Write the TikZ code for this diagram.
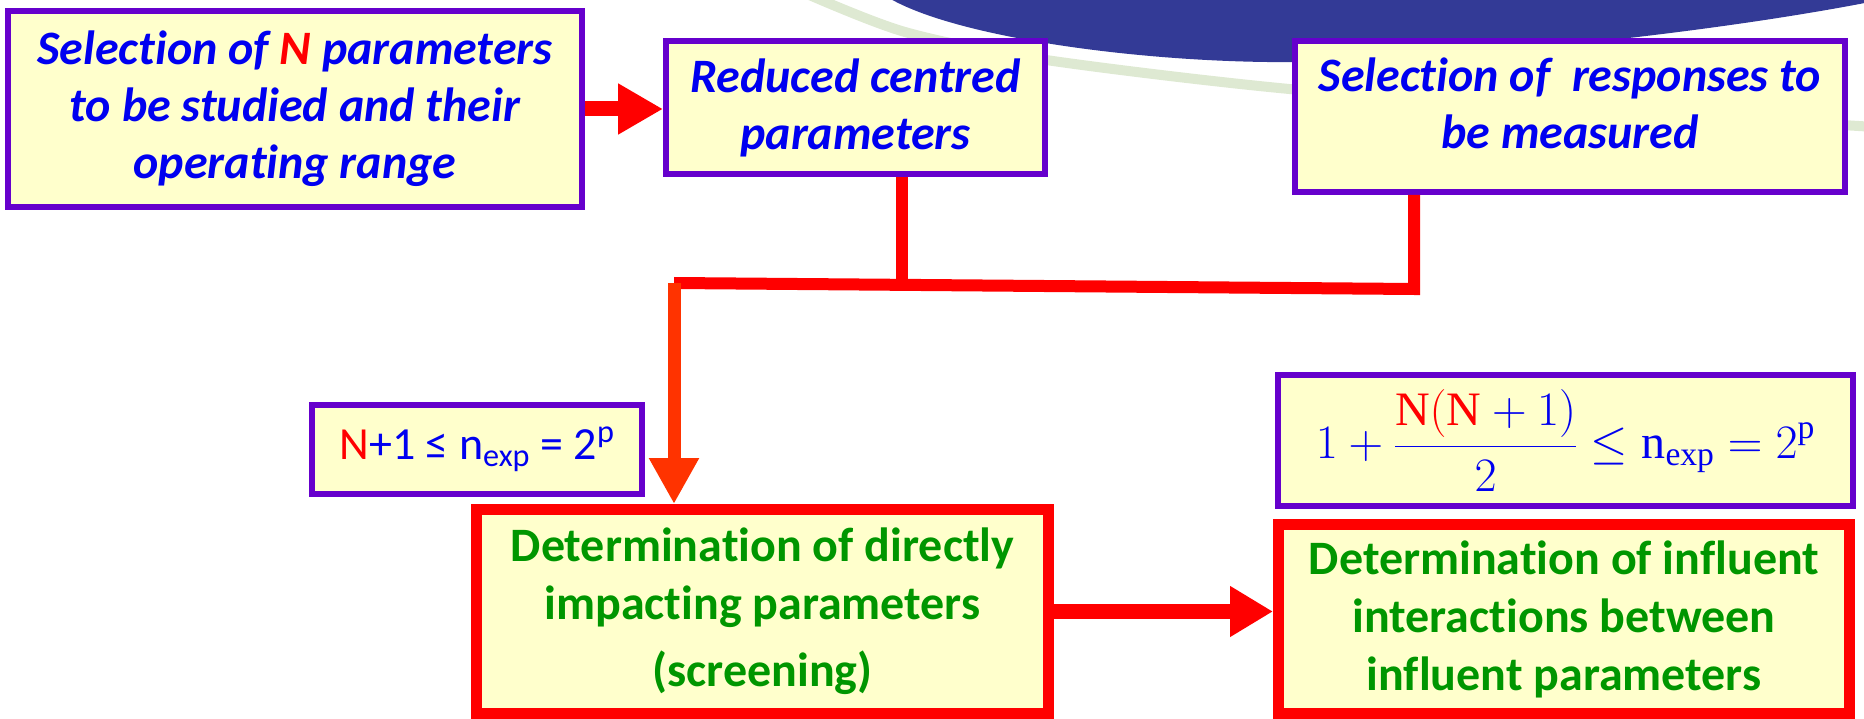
\RequirePackage{fix-cm}
\documentclass[tikz,border=0pt]{standalone}
\usepackage{fontspec}
\setmainfont{Carlito}[Ligatures=NoCommon]
\setmathrm{Liberation Serif}
\usetikzlibrary{arrows.meta}
\definecolor{boxpurple}{RGB}{102,0,204}
\definecolor{boxfill}{RGB}{255,255,204}
\definecolor{txtblue}{RGB}{0,0,240}
\definecolor{txtgreen}{RGB}{0,150,0}
\definecolor{arrowred}{RGB}{255,0,0}
\definecolor{arroworange}{RGB}{255,51,0}
\definecolor{bgnavy}{RGB}{51,58,150}
\definecolor{bgarc}{RGB}{222,233,210}
\begin{document}
\begin{tikzpicture}[x=1pt,y=-1pt,
  inbox/.style={draw=boxpurple,line width=6pt,fill=boxfill,align=center,inner sep=0pt,
    text=txtblue,font=\fontsize{48}{57}\selectfont\bfseries\itshape},
  formbox/.style={draw=boxpurple,line width=6pt,fill=boxfill,align=center,inner sep=0pt,text=txtblue},
  stepbox/.style={draw=arrowred,line width=11pt,fill=boxfill,align=center,inner sep=0pt,
    text=txtgreen,font=\fontsize{48}{58}\selectfont\bfseries},
  redline/.style={draw=arrowred,line width=12pt}]
\useasboundingbox (0,0) rectangle (1864,719);
\draw[bgarc,line width=10pt] plot[smooth] coordinates {(798,-10) (905,32) (1046,60) (1300,90) (1600,110) (1875,127)};
\fill[bgnavy] (884,-5) .. controls (950,38) and (1150,64) .. (1300,62)
  .. controls (1450,60) and (1700,35) .. (1870,2) -- (1870,-5) -- cycle;

\node[inbox,minimum width=574pt,minimum height=196pt] (sel) at (295,109)
  {Selection of {\color{arrowred}N} parameters\\to be studied and their\\operating range};
\node[inbox,minimum width=379pt,minimum height=133pt] (red) at (855.5,107.5)
  {Reduced centred\\parameters};
\node[inbox,minimum width=550pt,minimum height=151pt] (resp) at (1570,116.5)
  {Selection of\ \ responses to\\be measured\\[-30pt]\mbox{}};
\node[formbox,minimum width=330pt,minimum height=89pt,font=\fontsize{46}{50}\selectfont] (frm1) at (477,449.5)
  {{\color{arrowred}N}+1 ≤ n\textsubscript{exp} = 2\textsuperscript{p}};
\node[formbox,minimum width=575pt,minimum height=131pt,font=\fontsize{48}{50}\selectfont] (frm2) at (1565.5,440.5)
  {\raisebox{8pt}{$\displaystyle 1+\frac{{\color{arrowred}\mathrm{N}(\mathrm{N}}+1)}{2}\le \mathrm{n}_{\mathrm{exp}}=2^{\mathrm{p}}$}};
\node[stepbox,minimum width=572pt,minimum height=204pt] (drs) at (762.5,611.5)
  {Determination of directly\\impacting parameters\\[9pt](screening)};
\node[stepbox,minimum width=571pt,minimum height=189pt] (inf) at (1564,619)
  {Determination of influent\\interactions between\\influent parameters};

\coordinate (jl) at (674,283);
\coordinate (jm) at (902,285);
\coordinate (jr) at (1414,289);
\draw[arrowred,line width=15pt,-{Triangle[length=45pt,width=48pt]}] (sel.east |- 0,109) -- (red.west |- 0,109);
\draw[redline] (red.south -| jm) -- (jm);
\draw[redline] (resp.south -| jr) -- (jr) -- (jl);
\draw[arroworange,line width=13pt,-{Triangle[length=46pt,width=47pt]}] (jl) -- (drs.north -| jl);
\draw[arrowred,line width=15pt,-{Triangle[length=43pt,width=48pt]}] (drs.east) -- (drs.east -| inf.west);
\end{tikzpicture}
\end{document}
